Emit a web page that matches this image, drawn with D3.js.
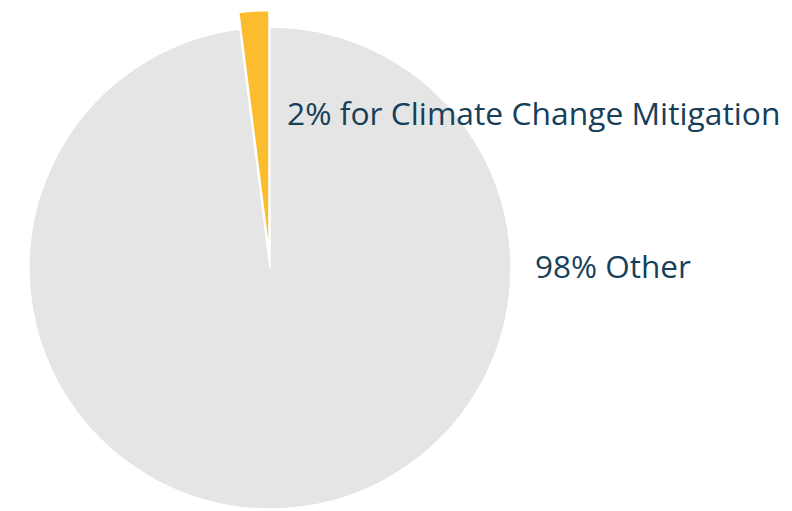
<!DOCTYPE html>
<html>
<head>
<meta charset="utf-8">
<script src="https://cdn.jsdelivr.net/npm/d3@7"></script>
<style>
  body { margin: 0; background: #fff; }
  svg { display: block; font-family: "Open Sans", sans-serif; }
</style>
</head>
<body>
<div id="chart"></div>
<script>
// Data
const categories = ["Other", "Climate Change Mitigation"];
const shares = [98, 2];
const labels = ["98% Other", "2% for Climate Change Mitigation"];
const colors = ["#e5e5e5", "#fbbd2e"];

const width = 792, height = 511;
const cx = 270, cy = 268, radius = 241;
const slicedOffset = 16.5;

const svg = d3.select("#chart").append("svg")
  .attr("width", width)
  .attr("height", height);

const color = d3.scaleOrdinal().domain(categories).range(colors);

const pie = d3.pie().sort(null).value((d) => d.value);
const arcs = pie(categories.map((c, i) => ({ name: c, value: shares[i], label: labels[i] })));

const arc = d3.arc().innerRadius(0).outerRadius(radius);

const g = svg.append("g").attr("transform", `translate(${cx},${cy})`);

// Slices - the small one is pulled out a bit
g.selectAll("path")
  .data(arcs)
  .join("path")
  .attr("d", arc)
  .attr("fill", (d) => color(d.data.name))
  .attr("stroke", "#fff")
  .attr("stroke-width", 1.5)
  .attr("stroke-linejoin", "round")
  .attr("transform", (d) => {
    if (d.data.value > 10) return null;
    const mid = (d.startAngle + d.endAngle) / 2;
    return `translate(${Math.sin(mid) * slicedOffset},${-Math.cos(mid) * slicedOffset})`;
  });

// Labels
const labelPos = {
  "Other": [radius + 24, 10],
  "Climate Change Mitigation": [17, -radius + 98]
};

g.selectAll("text")
  .data(arcs)
  .join("text")
  .attr("x", (d) => labelPos[d.data.name][0])
  .attr("y", (d) => labelPos[d.data.name][1])
  .attr("fill", "#173f5a")
  .attr("font-size", (d) => d.data.value > 10 ? 31.5 : 31.8)
  .text((d) => d.data.label);
</script>
</body>
</html>
